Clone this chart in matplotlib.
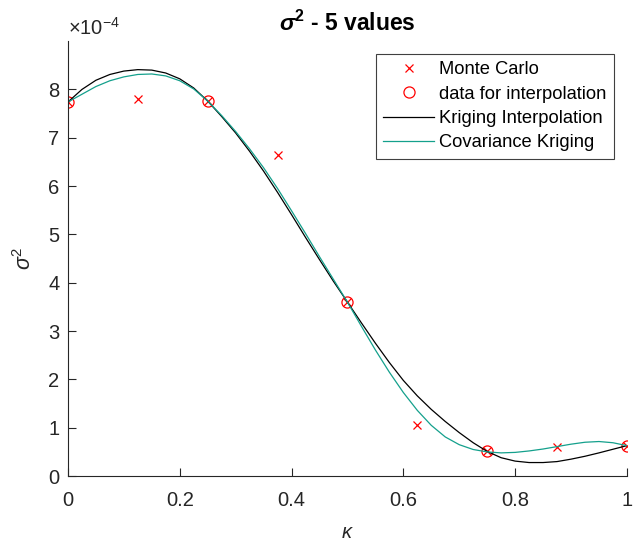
import matplotlib
matplotlib.use('Agg')
import matplotlib.pyplot as plt

plt.rcParams['font.family'] = ['Liberation Sans', 'DejaVu Sans']
plt.rcParams['mathtext.fontset'] = 'custom'
plt.rcParams['mathtext.rm'] = 'Liberation Sans'
plt.rcParams['mathtext.it'] = 'Liberation Sans:italic'
plt.rcParams['mathtext.bf'] = 'Liberation Sans:bold'
plt.rcParams['mathtext.bfit'] = 'Liberation Sans:bold:italic'

# values in units of 1e-4
mc_x = [0, 0.125, 0.25, 0.375, 0.5, 0.625, 0.75, 0.875, 1.0]
mc_y = [7.74, 7.80, 7.76, 6.64, 3.61, 1.05, 0.51, 0.61, 0.63]

interp_x = [0, 0.25, 0.5, 0.75, 1.0]
interp_y = [7.74, 7.76, 3.61, 0.51, 0.63]

curve_x = [0, 0.025, 0.05, 0.075, 0.1, 0.125, 0.15, 0.175, 0.2, 0.225,
           0.25, 0.275, 0.3, 0.325, 0.35, 0.375, 0.4, 0.425, 0.45, 0.475,
           0.5, 0.525, 0.55, 0.575, 0.6, 0.625, 0.65, 0.675, 0.7, 0.725,
           0.75, 0.775, 0.8, 0.825, 0.85, 0.875, 0.9, 0.925, 0.95, 0.975, 1.0]
kriging_y = [7.74, 8.00, 8.19, 8.31, 8.38, 8.41, 8.40, 8.34, 8.22, 8.03,
             7.76, 7.44, 7.10, 6.72, 6.31, 5.87, 5.41, 4.94, 4.48, 4.03,
             3.60, 3.17, 2.75, 2.35, 1.98, 1.66, 1.38, 1.13, 0.90, 0.69,
             0.51, 0.38, 0.31, 0.28, 0.28, 0.30, 0.35, 0.41, 0.48, 0.555, 0.63]
cov_kriging_y = [7.74, 7.90, 8.06, 8.18, 8.26, 8.31, 8.32, 8.28, 8.18, 8.01,
                 7.76, 7.46, 7.13, 6.77, 6.38, 5.95, 5.49, 5.02, 4.54, 4.07,
                 3.60, 3.10, 2.61, 2.15, 1.73, 1.36, 1.05, 0.81, 0.65, 0.55,
                 0.50, 0.48, 0.49, 0.52, 0.56, 0.61, 0.66, 0.70, 0.715, 0.69, 0.63]

fig = plt.figure(figsize=(6.41, 5.41), dpi=100)
ax = fig.add_axes([0.106, 0.120, 0.872, 0.804])

ax.plot(mc_x, mc_y, 'x', color='red', markersize=6, markeredgewidth=0.9, label='Monte Carlo')
ax.plot(interp_x, interp_y, 'o', color='red', markerfacecolor='none', markersize=8,
        markeredgewidth=0.9, label='data for interpolation')
ax.plot(curve_x, kriging_y, color='black', lw=0.9, label='Kriging Interpolation')
ax.plot(curve_x, cov_kriging_y, color='#14a08c', lw=0.9, label='Covariance Kriging')

ax.set_xlim(0, 1)
ax.set_ylim(0, 9)
ax.set_xticks([0, 0.2, 0.4, 0.6, 0.8, 1])
ax.set_xticklabels(['0', '0.2', '0.4', '0.6', '0.8', '1'])
ax.set_yticks(range(0, 9))
for s in ['top', 'right']:
    ax.spines[s].set_visible(False)
for s in ['left', 'bottom']:
    ax.spines[s].set_color('#262626')
    ax.spines[s].set_linewidth(0.8)
ax.tick_params(direction='in', length=6, width=0.8, colors='#262626', labelsize=14.5,
               labelcolor='#262626')
ax.tick_params(axis='x', pad=11)
ax.tick_params(axis='y', pad=6)

ax.text(0.0, 1.005, '×10$^{\\mathregular{-4}}$', transform=ax.transAxes, fontsize=14.5,
        color='#262626', ha='left', va='bottom')
ax.set_title('$\\boldsymbol{\\sigma}^{\\mathbf{2}}$ - 5 values', fontsize=16.5, fontweight='bold', pad=7)
ax.set_xlabel('$\\kappa$', fontsize=14.5, color='#262626', labelpad=9)
ax.set_ylabel('$\\sigma^{\\mathregular{2}}$', fontsize=15.5, color='#262626', labelpad=9)

leg = ax.legend(loc='upper right', fontsize=13.2, fancybox=False, edgecolor='#404040',
                labelspacing=0.4, handlelength=2.8, handletextpad=0.27, borderpad=0.4,
                borderaxespad=0.7, framealpha=1)
leg.get_frame().set_linewidth(0.8)

fig.savefig('out.png', dpi=100)
